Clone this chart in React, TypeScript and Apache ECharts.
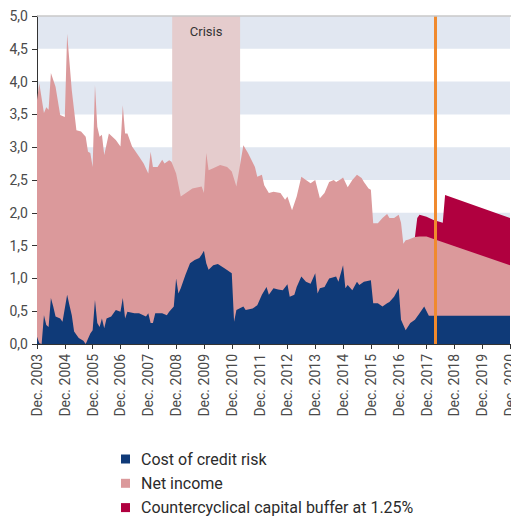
import React, { useEffect, useRef } from "react";
import * as echarts from "echarts";

// x positions are months counted from Dec. 2003 (0) to Dec. 2020 (204)
const xTickLabels = [
  "Dec. 2003", "Dec. 2004", "Dec. 2005", "Dec. 2006", "Dec. 2007", "Dec. 2008",
  "Dec. 2009", "Dec. 2010", "Dec. 2011", "Dec. 2012", "Dec. 2013", "Dec. 2014",
  "Dec. 2015", "Dec. 2016", "Dec. 2017", "Dec. 2018", "Dec. 2019", "Dec. 2020",
];

// Cost of credit risk (bottom area)
const costMonths = [
  0, 1, 2, 3, 4, 5, 6, 7, 8, 10, 11, 13, 14, 15, 16, 18, 20, 21, 23, 24, 25, 26, 27, 28, 29, 30,
  32, 34, 36, 37, 38, 39, 42, 44, 47, 48, 49, 50, 51, 54, 56, 57, 59, 60, 61, 62, 64, 66, 68, 70,
  71, 72, 73, 74, 76, 78, 81, 84, 85, 86, 89, 90, 93, 95, 97, 99, 100, 102, 104, 106, 108, 109,
  111, 112, 114, 116, 118, 120, 121, 122, 124, 126, 129, 130, 132, 133, 134, 136, 138, 139, 141,
  144, 145, 147, 149, 151, 152, 154, 156, 157, 159, 161, 163, 165, 167, 169, 204,
];
const costOfCreditRisk = [
  0.11, 0.01, 0.0, 0.44, 0.29, 0.26, 0.7, 0.57, 0.42, 0.39, 0.34, 0.75, 0.59, 0.44, 0.19, 0.09, 0.05,
  0.0, 0.16, 0.21, 0.67, 0.32, 0.26, 0.39, 0.24, 0.39, 0.42, 0.52, 0.49, 0.7, 0.39, 0.49, 0.47, 0.47,
  0.42, 0.47, 0.32, 0.32, 0.47, 0.47, 0.44, 0.49, 0.57, 1.0, 0.77, 0.85, 1.05, 1.23, 1.28, 1.31,
  1.36, 1.42, 1.23, 1.13, 1.2, 1.22, 1.15, 1.08, 0.34, 0.52, 0.57, 0.52, 0.54, 0.59, 0.75, 0.87,
  0.75, 0.85, 0.83, 0.82, 0.91, 0.72, 0.75, 0.87, 1.03, 0.95, 0.92, 1.08, 0.77, 0.85, 0.87, 1.0,
  1.03, 0.95, 1.2, 0.85, 0.9, 0.82, 0.95, 0.9, 0.95, 0.97, 0.62, 0.62, 0.57, 0.62, 0.64, 0.72,
  0.85, 0.37, 0.21, 0.32, 0.37, 0.47, 0.57, 0.43, 0.43,
];

// Upper edge of the net income area (stacked on the cost of credit risk)
const incomeMonths = [
  0, 1, 3, 4, 5, 6, 8, 10, 12, 13, 15, 17, 19, 21, 22, 23, 24, 25, 26, 27, 28, 29, 31, 34, 36, 37,
  38, 39, 41, 42, 44, 46, 48, 49, 50, 52, 54, 55, 57, 58, 60, 62, 65, 67, 71, 72, 73, 74, 76, 79,
  82, 84, 86, 89, 91, 94, 95, 97, 98, 100, 102, 105, 107, 108, 110, 112, 114, 116, 118, 120, 122,
  124, 126, 128, 129, 131, 132, 134, 136, 138, 140, 141, 143, 144, 145, 147, 149, 151, 152, 154,
  156, 157, 158, 159, 160, 163, 165, 168, 172, 204,
];
const netIncomeTop = [
  3.72, 3.97, 3.52, 3.61, 3.57, 4.13, 3.92, 3.49, 3.46, 4.73, 3.87, 3.26, 3.24, 3.16, 2.93, 2.91,
  2.7, 3.95, 3.31, 3.16, 3.19, 2.88, 3.21, 3.11, 3.01, 3.64, 3.21, 3.21, 3.01, 2.96, 2.86, 2.75,
  2.6, 2.93, 2.7, 2.7, 2.81, 2.75, 2.8, 2.78, 2.6, 2.25, 2.32, 2.37, 2.4, 2.3, 2.91, 2.65, 2.68,
  2.73, 2.7, 2.63, 2.4, 3.03, 2.91, 2.7, 2.55, 2.58, 2.42, 2.3, 2.32, 2.3, 2.2, 2.25, 2.04, 2.25,
  2.55, 2.5, 2.45, 2.5, 2.22, 2.3, 2.47, 2.5, 2.47, 2.51, 2.54, 2.39, 2.5, 2.58, 2.53, 2.47, 2.37,
  2.35, 1.84, 1.84, 1.92, 1.98, 1.92, 1.92, 1.97, 1.85, 1.53, 1.58, 1.59, 1.63, 1.64, 1.64, 1.59,
  1.2,
];

// Upper edge of the countercyclical capital buffer area
const bufferMonths = [163, 164, 165, 168, 171, 175, 176, 204];
const bufferTop = [1.63, 1.92, 1.97, 1.94, 1.89, 1.85, 2.27, 1.92];

const crisisRange = [58.3, 87.6];
const projectionMonth = 171.8;

const legendNames = ["Cost of credit risk", "Net income", "Countercyclical capital buffer at 1.25%"];

const pairs = (xs: number[], ys: number[]) => xs.map((x, i) => [x, ys[i]]);

export default function App() {
  const ref = useRef<HTMLDivElement>(null);
  useEffect(() => {
    if (!ref.current) return;
    document.body.style.margin = "0";
    document.body.style.overflow = "hidden";
    const chart = echarts.init(ref.current, null, { renderer: "svg" });
    const font = "Roboto";
    chart.setOption({
      animation: false,
      textStyle: { fontFamily: font },
      grid: { left: 37, right: 1, top: 16, bottom: 172, outerBoundsMode: "none", containLabel: false },
      legend: legendNames.map((name, i) => ({
        orient: "vertical",
        left: 121,
        top: 450 + i * 24.3,
        padding: 0,
        itemWidth: 9,
        itemHeight: 9,
        icon: "rect",
        data: [name],
        textStyle: {
          fontSize: 16,
          lineHeight: 18,
          color: "#2b2b2b",
          fontFamily: font,
          padding: [0, 0, 0, 6],
        },
      })),
      xAxis: {
        type: "value",
        min: 0,
        max: 204,
        interval: 12,
        axisLine: { show: true, lineStyle: { color: "#333", width: 1 } },
        axisTick: { show: true, length: 5, lineStyle: { color: "#333" } },
        splitLine: { show: false },
        axisLabel: {
          rotate: 90,
          margin: 10,
          fontSize: 14,
          color: "#4a4a4a",
          fontFamily: font,
          hideOverlap: false,
          showMaxLabel: true,
          formatter: (v: number) => xTickLabels[Math.round(v / 12)] ?? "",
        },
      },
      yAxis: {
        type: "value",
        min: 0,
        max: 5,
        interval: 0.5,
        axisLine: { show: true, lineStyle: { color: "#333", width: 1 } },
        axisTick: { show: true, length: 5, lineStyle: { color: "#333" } },
        splitLine: { show: false },
        splitArea: { show: true, areaStyle: { color: ["rgba(255,255,255,0)", "#e1e7f1"] } },
        axisLabel: {
          margin: 9,
          fontSize: 14,
          color: "#4a4a4a",
          fontFamily: font,
          formatter: (v: number) => v.toFixed(1).replace(".", ","),
        },
      },
      graphic: [
        {
          type: "line",
          shape: { x1: 37, y1: 16, x2: 511, y2: 16 },
          style: { stroke: "#c8c8c8", lineWidth: 1.5 },
          z: 10,
        },
      ],
      series: [
        {
          name: "Countercyclical capital buffer at 1.25%",
          type: "line",
          z: 3,
          data: pairs(bufferMonths, bufferTop),
          showSymbol: false,
          symbol: "none",
          color: "#b0003f",
          lineStyle: { width: 0 },
          areaStyle: { color: "#b0003f", opacity: 1 },
        },
        {
          name: "Net income",
          type: "line",
          z: 4,
          data: pairs(incomeMonths, netIncomeTop),
          showSymbol: false,
          symbol: "none",
          color: "#db999b",
          lineStyle: { width: 0 },
          areaStyle: { color: "#db999b", opacity: 1 },
        },
        {
          name: "Cost of credit risk",
          type: "line",
          z: 5,
          data: pairs(costMonths, costOfCreditRisk),
          showSymbol: false,
          symbol: "none",
          color: "#0f3a78",
          lineStyle: { width: 0 },
          areaStyle: { color: "#0f3a78", opacity: 1 },
        },
        {
          name: "crisis",
          type: "line",
          z: 1,
          data: [],
          markArea: {
            silent: true,
            z: 1,
            itemStyle: { color: "#e5cccd" },
            label: {
              show: true,
              position: "insideTop",
              distance: 9,
              color: "#333",
              fontSize: 13,
              fontFamily: font,
            },
            data: [[{ xAxis: crisisRange[0], name: "Crisis" }, { xAxis: crisisRange[1] }]],
          },
        },
        {
          name: "projection",
          type: "line",
          z: 8,
          data: [],
          markLine: {
            silent: true,
            z: 8,
            symbol: "none",
            label: { show: false },
            lineStyle: { color: "#f08a2e", width: 3, type: "solid" },
            data: [{ xAxis: projectionMonth }],
          },
        },
      ],
    });
    return () => chart.dispose();
  }, []);
  return (
    <div
      ref={ref}
      style={{ position: "absolute", left: 0, top: 0, width: 511, height: 516 }}
    />
  );
}
